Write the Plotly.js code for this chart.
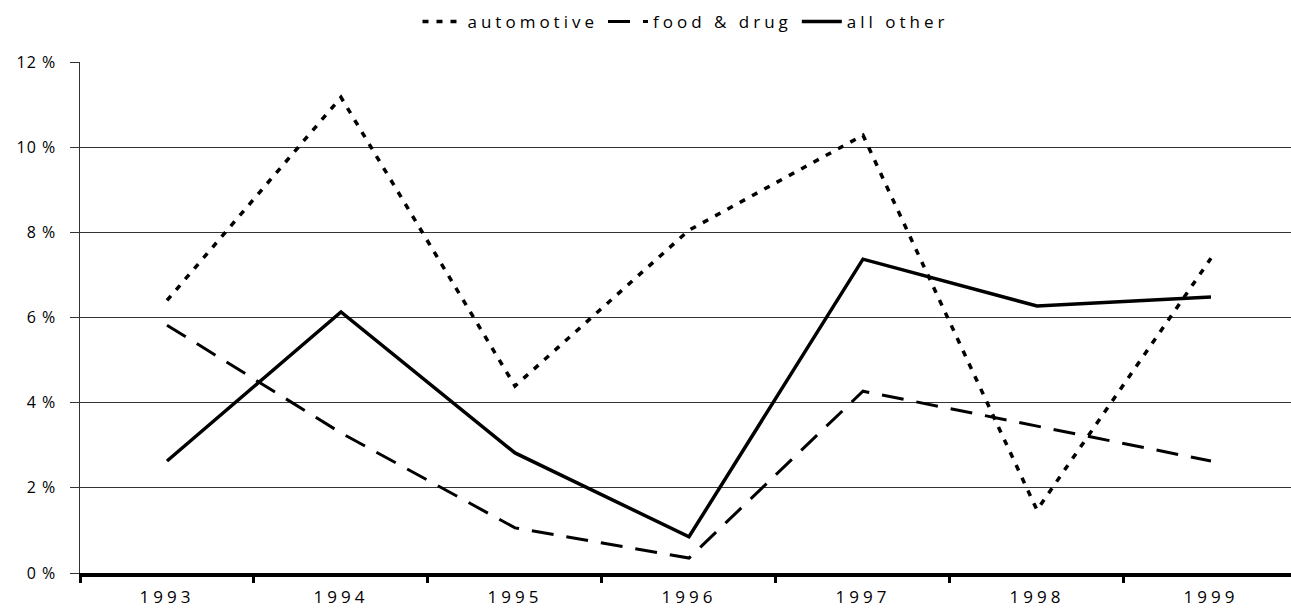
<!DOCTYPE html>
<html>
<head>
<meta charset="utf-8">
<script src="https://cdn.plot.ly/plotly-3.0.1.min.js"></script>
<style>
html,body{margin:0;padding:0;background:#fff;}
#chart{width:1291px;height:615px;}
.xtick text {letter-spacing:4px;}
.ytick text {letter-spacing:1px;}
.legendtext {letter-spacing:4px;}
</style>
</head>
<body>
<div id="chart"></div>
<script>
const years = ["1993","1994","1995","1996","1997","1998","1999"];
const automotive = [6.4, 11.17, 4.39, 8.05, 10.28, 1.48, 7.39];
const foodDrug = [5.82, 3.29, 1.06, 0.35, 4.27, 3.45, 2.63];
const allOther = [2.63, 6.13, 2.82, 0.85, 7.37, 6.27, 6.48];
const yTicks = [0, 2, 4, 6, 8, 10, 12];
const yTickText = ["0 %", "2 %", "4 %", "6 %", "8 %", "10 %", "12 %"];

const font = "Open Sans, DejaVu Sans, sans-serif";

const traces = [
  {x: years, y: automotive, name: "automotive", type: "scatter", mode: "lines",
   line: {color: "#000", width: 3.5, dash: "6px,8px"}},
  {x: years, y: foodDrug, name: "food & drug", type: "scatter", mode: "lines",
   line: {color: "#000", width: 3, dash: "22px,13px"}},
  {x: years, y: allOther, name: "all other", type: "scatter", mode: "lines",
   line: {color: "#000", width: 3.5}}
];

const layout = {
  width: 1291, height: 615,
  margin: {l: 80, r: 0, t: 62, b: 42},
  paper_bgcolor: "#fff", plot_bgcolor: "#fff",
  font: {family: font, color: "#000", size: 16},
  showlegend: true,
  legend: {orientation: "h", x: 0.5, xanchor: "center", y: 0.935, yanchor: "bottom",
           yref: "container", font: {size: 17, family: font}, itemwidth: 40,
           traceorder: "normal"},
  xaxis: {
    type: "category", range: [-0.5, 6.46],
    tickson: "boundaries", ticks: "outside", ticklen: 6, tickwidth: 3, tickcolor: "#000",
    showline: true, linecolor: "#000", linewidth: 4,
    showgrid: false, zeroline: false,
    tickfont: {size: 17, family: font}, ticklabelstandoff: 6,
    fixedrange: true
  },
  yaxis: {
    range: [0, 12], tickvals: yTicks, ticktext: yTickText,
    ticks: "outside", ticklen: 9, tickwidth: 1, tickcolor: "#333",
    showline: true, linecolor: "#333", linewidth: 1.5,
    showgrid: true, gridcolor: "#333", gridwidth: 1,
    zeroline: false, ticklabelstandoff: 10,
    tickfont: {size: 16, family: font},
    fixedrange: true
  }
};

Plotly.newPlot("chart", traces, layout, {displayModeBar: false, staticPlot: true});
</script>
</body>
</html>
